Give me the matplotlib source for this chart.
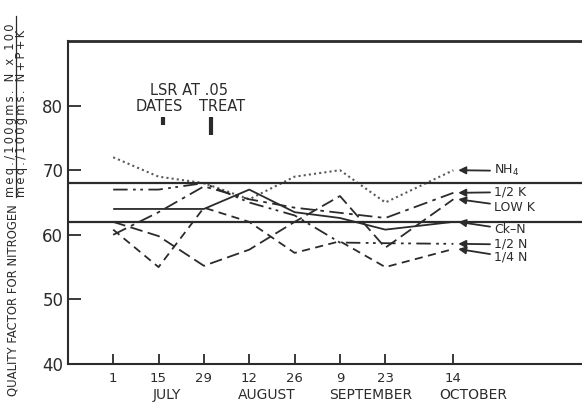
import matplotlib
matplotlib.use("Agg")
import matplotlib.pyplot as plt
from matplotlib.lines import Line2D

# ---------------- data ----------------
days = [0, 14, 28, 42, 56, 70, 84, 105]          # days after July 1
day_labels = ["1", "15", "29", "12", "26", "9", "23", "14"]
months = ["JULY", "AUGUST", "SEPTEMBER", "OCTOBER"]
month_days = [16.5, 47.5, 79.5, 111]

nh4 = [72, 69, 68, 65.5, 69, 70, 65, 70]
half_k = [60, 63.5, 67.5, 65.5, 64.2, 63.4, 62.6, 66.5]
low_k = [62, 59.8, 55.2, 57.7, 62, 66, 58, 65.5]
ck_n = [64, 64, 64, 67, 63.5, 62.6, 60.8, 62]
half_n = [67, 67, 68, 65, 63, 58.8, 58.7, 58.6]
quarter_n = [60.8, 55, 64.2, 62, 57.2, 59, 55, 57.8]

series_names = ["NH$_4$", "1/2 K", "LOW K", "Ck\u2013N", "1/2 N", "1/4 N"]
ref_levels = [68, 62]
lsr_dates = 1.25
lsr_treat = 2.8

numerator = "meq./100gms. N x 100"
denominator = "meq./100gms. N+P+K"


def spaced(s):
    return "\u2009".join(s)


# ---------------- figure ----------------
W, H = 582, 403
fig = plt.figure(figsize=(W / 100, H / 100), dpi=100)
ax = fig.add_axes([67.5 / W, 1 - 364 / H, 1 - 67.5 / W, (364 - 41) / H])
ax.set_xlim(-14.1, 144.7)
ax.set_ylim(40, 90)

ink = "#2b2b2b"
styles = [
    dict(color="#5a5a5a", lw=1.5, dashes=(1.0, 1.5)),
    dict(color=ink, lw=1.3, dashes=(8, 3, 2, 3)),
    dict(color=ink, lw=1.3, dashes=(7, 3)),
    dict(color=ink, lw=1.3),
    dict(color=ink, lw=1.3, dashes=(8, 3, 1.5, 2.5, 1.5, 3)),
    dict(color=ink, lw=1.3, dashes=(4.5, 3)),
]
all_series = [nh4, half_k, low_k, ck_n, half_n, quarter_n]
for vals, st in zip(all_series, styles):
    ax.plot(days, vals, solid_capstyle="butt", dash_capstyle="butt", **st)

for lv in ref_levels:
    ax.axhline(lv, color=ink, lw=1.6)

# labels with arrows
text_y = [69.9, 66.6, 64.3, 60.8, 58.5, 56.5]
for name, vals, ty in zip(series_names, all_series, text_y):
    ax.annotate(name, xy=(days[-1] + 1.5, vals[-1]), xytext=(117.6, ty),
                fontsize=9, color=ink, va="center", ha="left",
                arrowprops=dict(arrowstyle="-|>", color=ink, lw=1.3,
                                mutation_scale=11, shrinkA=1, shrinkB=0))

# LSR annotation
ax.text(23.5, 82.3, "LSR AT .05", fontsize=10.5, ha="center", va="center", color=ink)
ax.text(14.3, 79.9, "DATES", fontsize=10.5, ha="center", va="center", color=ink)
ax.text(33.5, 79.9, "TREAT", fontsize=10.5, ha="center", va="center", color=ink)
top_bar = 78.2
ax.plot([15.3, 15.3], [top_bar, top_bar - lsr_dates], color=ink, lw=3, solid_capstyle="butt")
ax.plot([30.2, 30.2], [top_bar, top_bar - lsr_treat], color=ink, lw=3, solid_capstyle="butt")

# axes styling
ax.spines["right"].set_visible(False)
ax.spines["top"].set_linewidth(2.0)
ax.spines["left"].set_linewidth(1.5)
ax.spines["bottom"].set_linewidth(1.5)
for s in ax.spines.values():
    s.set_color(ink)

ax.set_yticks([40, 50, 60, 70, 80])
ax.set_yticklabels(["40", "50", "60", "70", "80"])
ax.tick_params(axis="y", direction="in", length=9, width=1.3, pad=3,
               labelsize=12, colors=ink)
ax.set_xticks(days)
ax.set_xticklabels(day_labels)
ax.tick_params(axis="x", direction="in", length=7, width=1.3, pad=6,
               labelsize=9.5, colors=ink)

for m, d in zip(months, month_days):
    ax.text(d, -0.095, m, transform=ax.get_xaxis_transform(), fontsize=10,
            ha="center", va="center", color=ink)

# y-axis label with fraction
fig.text(13 / W, 1 - 204 / H, "QUALITY FACTOR FOR NITROGEN", rotation=90,
         fontsize=8.4, ha="center", va="top", color=ink)
fig.text(10.5 / W, 1 - 197 / H, spaced(numerator), rotation=90,
         fontsize=8.3, ha="center", va="bottom", color=ink)
fig.text(22 / W, 1 - 197 / H, spaced(denominator), rotation=90,
         fontsize=8.3, ha="center", va="bottom", color=ink)
fig.add_artist(Line2D([16 / W, 16 / W], [1 - 197 / H, 1 - 16 / H],
                      transform=fig.transFigure, color=ink, lw=0.9))

fig.savefig("out.png", dpi=100)
